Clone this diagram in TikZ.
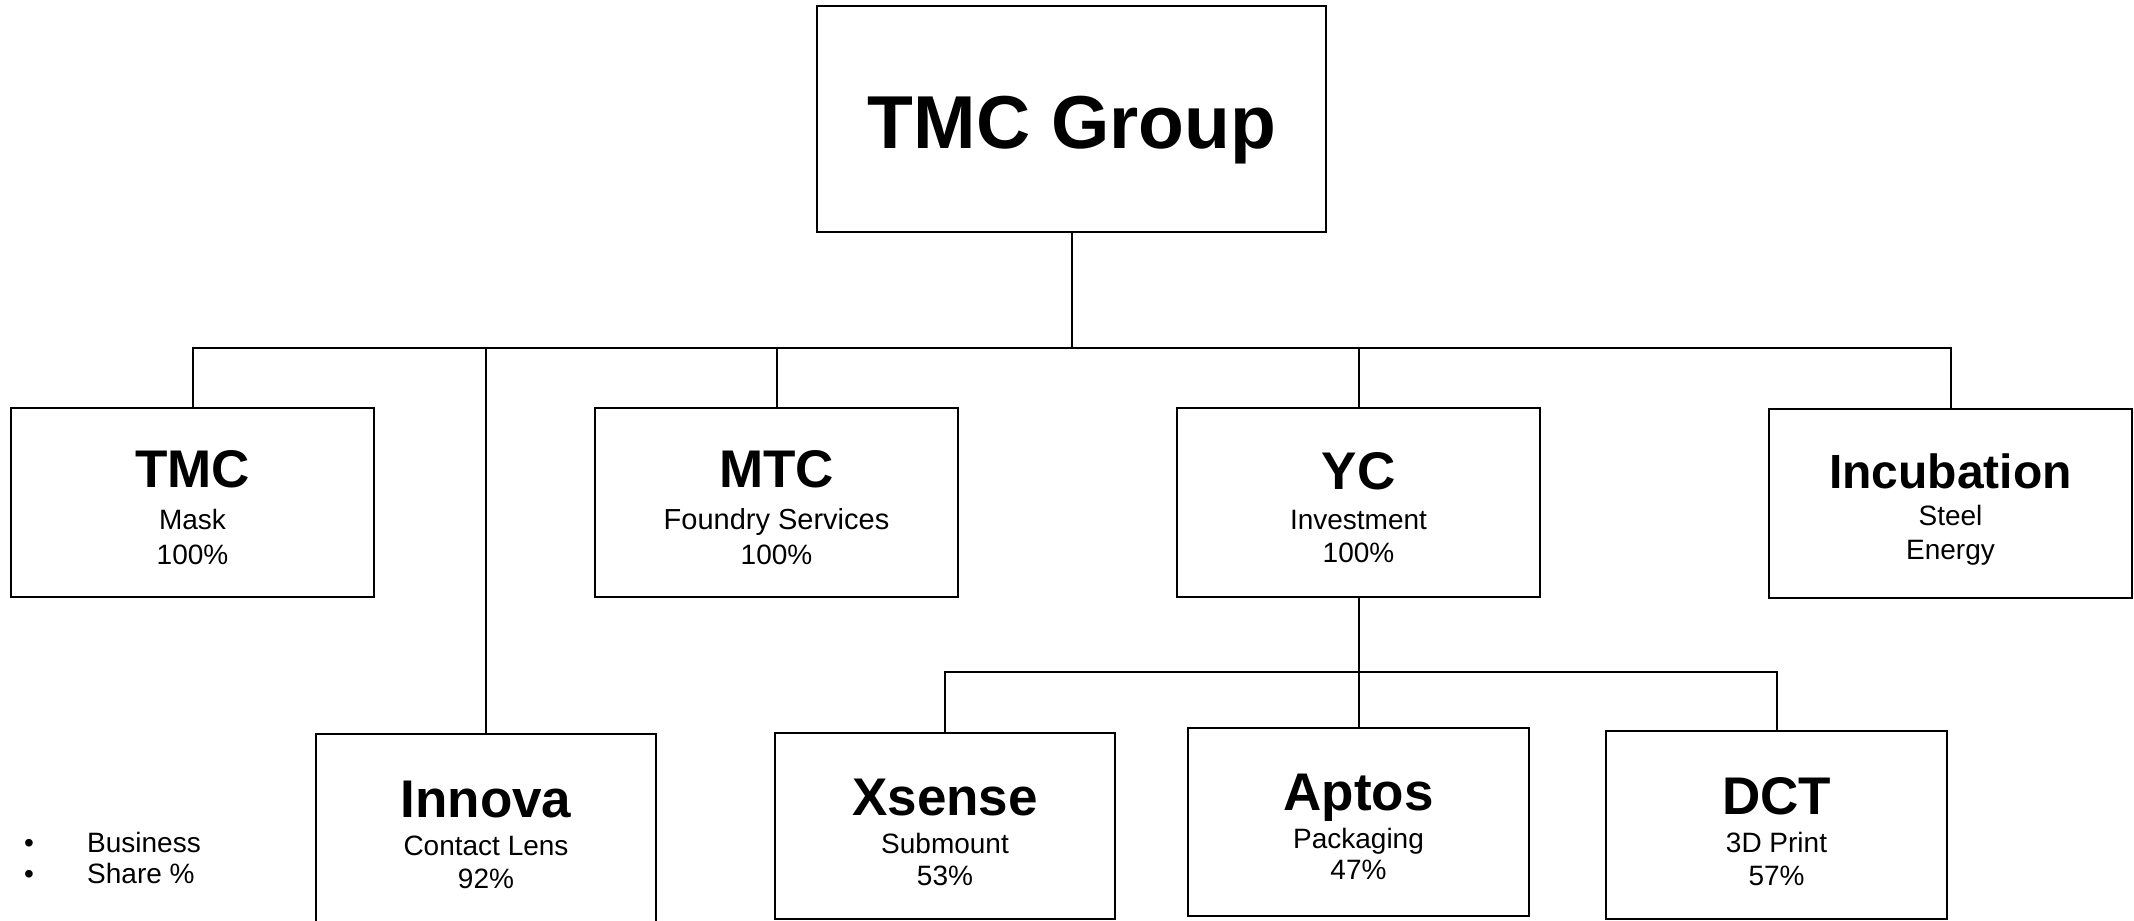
\documentclass[tikz,border=0pt]{standalone}
\usepackage{fontspec}
\setmainfont{Liberation Sans}
\begin{document}
\begin{tikzpicture}[x=1pt,y=-1pt,
  orgbox/.style={draw, line width=2pt, inner sep=0pt, outer sep=0pt},
  link/.style={line width=2pt},
  ttl/.style={anchor=base, inner sep=0pt, font=\fontsize{53}{53}\selectfont\bfseries},
  sub/.style={anchor=base, inner sep=0pt, font=\fontsize{28}{28}\selectfont},
  big/.style={anchor=base, inner sep=0pt, font=\fontsize{75}{75}\selectfont\bfseries}]
\useasboundingbox (0,0) rectangle (2134,921);
\clip (0,0) rectangle (2134,921);
\fill[white] (0,0) rectangle (2134,921);

% boxes
\node[orgbox, minimum width=509pt, minimum height=226pt] (grp) at (1071.5,119) {};
\node[orgbox, minimum width=363pt, minimum height=189pt] (tmc) at (192.5,502.5) {};
\node[orgbox, minimum width=363pt, minimum height=189pt] (mtc) at (776.5,502.5) {};
\node[orgbox, minimum width=363pt, minimum height=189pt] (yc) at (1358.5,502.5) {};
\node[orgbox, minimum width=363pt, minimum height=189pt] (inc) at (1950.5,503.5) {};
\node[orgbox, minimum width=340pt, minimum height=196pt] (inn) at (486,832) {};
\node[orgbox, minimum width=340pt, minimum height=186pt] (xs) at (945,826) {};
\node[orgbox, minimum width=341pt, minimum height=188pt] (ap) at (1358.5,822) {};
\node[orgbox, minimum width=341pt, minimum height=188pt] (dct) at (1776.5,825) {};

% connectors
\coordinate (bus) at (0,348);
\coordinate (sbus) at (0,672);
\draw[link] (grp.south) -- (grp.south |- bus);
\draw[link] (tmc.north) -- (tmc.north |- bus) -- (inc.north |- bus) -- (inc.north);
\draw[link] (inn.north) -- (inn.north |- bus);
\draw[link] (mtc.north) -- (mtc.north |- bus);
\draw[link] (yc.north) -- (yc.north |- bus);
\draw[link] (yc.south) -- (yc.south |- sbus);
\draw[link] (xs.north) -- (xs.north |- sbus) -- (dct.north |- sbus) -- (dct.north);
\draw[link] (ap.north) -- (ap.north |- sbus);

% texts
\node[big] (tg) at (1072,148) {TMC Group};

\node[ttl] (t1) at (192.5,487) {TMC};
\node[sub] (t1a) at (192.5,529) {Mask};
\node[sub] (t1b) at (192.5,564) {100\%};

\node[ttl] (t2) at (776.5,487) {MTC};
\node[sub, font=\fontsize{29}{29}\selectfont] (t2a) at (776.5,529) {Foundry Services};
\node[sub] (t2b) at (776.5,564) {100\%};

\node[ttl] (t3) at (1358.5,489) {YC};
\node[sub] (t3a) at (1358.5,529) {Investment};
\node[sub] (t3b) at (1358.5,562) {100\%};

\node[ttl, font=\fontsize{48}{48}\selectfont\bfseries] (t4) at (1950.5,488) {Incubation};
\node[sub] (t4a) at (1950.5,525) {Steel};
\node[sub] (t4b) at (1950.5,559) {Energy};

\node[ttl] (t5) at (486,817) {Innova};
\node[sub] (t5a) at (486,855) {Contact Lens};
\node[sub] (t5b) at (486,888) {92\%};

\node[ttl] (t6) at (945,815) {Xsense};
\node[sub] (t6a) at (945,853) {Submount};
\node[sub] (t6b) at (945,885) {53\%};

\node[ttl] (t7) at (1358.5,810) {Aptos};
\node[sub] (t7a) at (1358.5,848) {Packaging};
\node[sub] (t7b) at (1358.5,879) {47\%};

\node[ttl] (t8) at (1776.5,814) {DCT};
\node[sub] (t8a) at (1776.5,852) {3D Print};
\node[sub] (t8b) at (1776.5,885) {57\%};

% legend
\node[sub] (b1) at (29,852) {•};
\node[sub] (b2) at (29,883) {•};
\node[sub, anchor=base west] (l1) at (87,852) {Business};
\node[sub, anchor=base west] (l2) at (87,883) {Share \%};
\end{tikzpicture}
\end{document}
